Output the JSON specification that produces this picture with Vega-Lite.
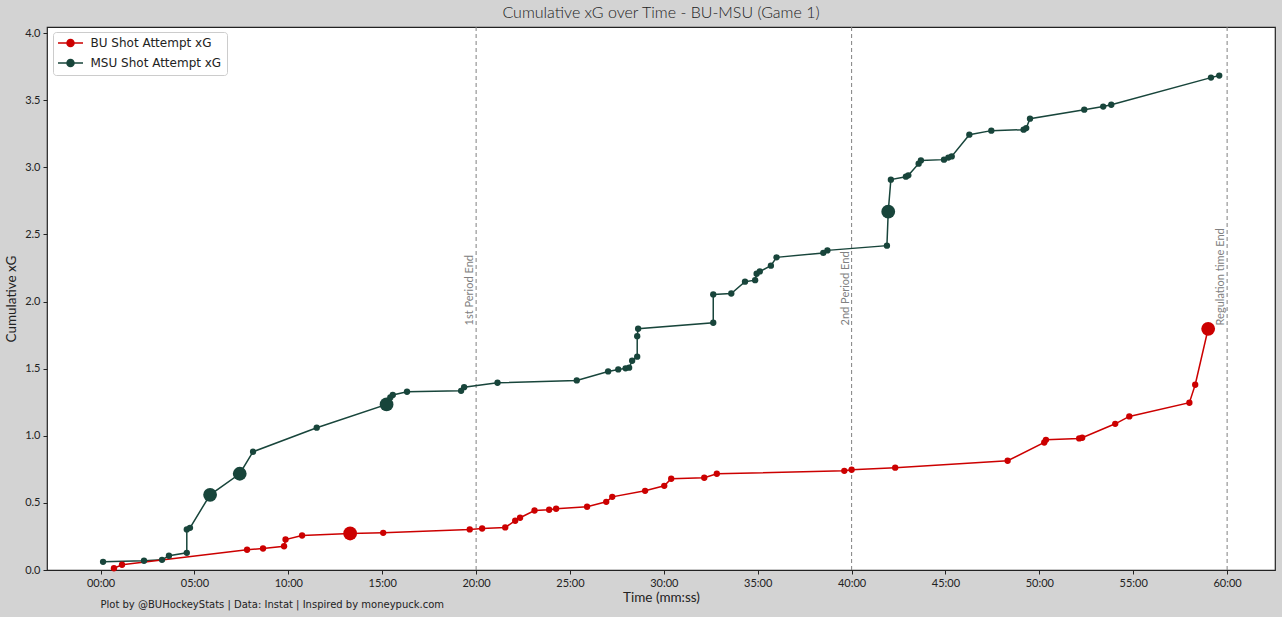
{
  "$schema": "https://vega.github.io/schema/vega-lite/v6.json",
  "width": 1228,
  "height": 543,
  "autosize": {"type": "none"},
  "padding": {"left": 47, "top": 27, "right": 7, "bottom": 47},
  "background": "#d3d3d3",
  "title": {"text": "Cumulative xG over Time - BU-MSU (Game 1)", "font": "Lato", "fontSize": 16, "fontWeight": 300, "color": "#222222", "offset": 6},
  "config": {
    "view": {"fill": "white", "stroke": "#222222", "strokeWidth": 1.2},
    "axis": {"grid": false, "domain": false, "tickColor": "#222222", "tickSize": 4, "labelFont": "Lato", "labelFontSize": 11, "labelColor": "#222222", "labelPadding": 3, "titleFont": "Lato", "titleFontSize": 13.5, "titleFontWeight": "normal", "titleColor": "#222222"}
  },
  "datasets": {
    "shots": [
      {"team": "MSU", "t": 0.13, "xg": 0.061, "goal": "No"},
      {"team": "MSU", "t": 2.31, "xg": 0.069, "goal": "No"},
      {"team": "MSU", "t": 3.27, "xg": 0.076, "goal": "No"},
      {"team": "MSU", "t": 3.64, "xg": 0.106, "goal": "No"},
      {"team": "MSU", "t": 4.59, "xg": 0.128, "goal": "No"},
      {"team": "MSU", "t": 4.59, "xg": 0.302, "goal": "No"},
      {"team": "MSU", "t": 4.76, "xg": 0.314, "goal": "No"},
      {"team": "MSU", "t": 5.83, "xg": 0.560, "goal": "Yes"},
      {"team": "MSU", "t": 7.41, "xg": 0.717, "goal": "Yes"},
      {"team": "MSU", "t": 8.12, "xg": 0.881, "goal": "No"},
      {"team": "MSU", "t": 11.51, "xg": 1.060, "goal": "No"},
      {"team": "MSU", "t": 15.23, "xg": 1.233, "goal": "Yes"},
      {"team": "MSU", "t": 15.43, "xg": 1.285, "goal": "No"},
      {"team": "MSU", "t": 15.56, "xg": 1.304, "goal": "No"},
      {"team": "MSU", "t": 16.32, "xg": 1.328, "goal": "No"},
      {"team": "MSU", "t": 19.20, "xg": 1.335, "goal": "No"},
      {"team": "MSU", "t": 19.36, "xg": 1.362, "goal": "No"},
      {"team": "MSU", "t": 21.14, "xg": 1.395, "goal": "No"},
      {"team": "MSU", "t": 25.36, "xg": 1.412, "goal": "No"},
      {"team": "MSU", "t": 27.03, "xg": 1.479, "goal": "No"},
      {"team": "MSU", "t": 27.57, "xg": 1.494, "goal": "No"},
      {"team": "MSU", "t": 27.96, "xg": 1.502, "goal": "No"},
      {"team": "MSU", "t": 28.15, "xg": 1.507, "goal": "No"},
      {"team": "MSU", "t": 28.31, "xg": 1.559, "goal": "No"},
      {"team": "MSU", "t": 28.58, "xg": 1.589, "goal": "No"},
      {"team": "MSU", "t": 28.58, "xg": 1.742, "goal": "No"},
      {"team": "MSU", "t": 28.63, "xg": 1.797, "goal": "No"},
      {"team": "MSU", "t": 32.63, "xg": 1.842, "goal": "No"},
      {"team": "MSU", "t": 32.63, "xg": 2.053, "goal": "No"},
      {"team": "MSU", "t": 33.59, "xg": 2.060, "goal": "No"},
      {"team": "MSU", "t": 34.32, "xg": 2.148, "goal": "No"},
      {"team": "MSU", "t": 34.86, "xg": 2.159, "goal": "No"},
      {"team": "MSU", "t": 34.94, "xg": 2.207, "goal": "No"},
      {"team": "MSU", "t": 35.11, "xg": 2.224, "goal": "No"},
      {"team": "MSU", "t": 35.70, "xg": 2.267, "goal": "No"},
      {"team": "MSU", "t": 36.00, "xg": 2.329, "goal": "No"},
      {"team": "MSU", "t": 38.49, "xg": 2.362, "goal": "No"},
      {"team": "MSU", "t": 38.71, "xg": 2.381, "goal": "No"},
      {"team": "MSU", "t": 41.88, "xg": 2.416, "goal": "No"},
      {"team": "MSU", "t": 41.95, "xg": 2.669, "goal": "Yes"},
      {"team": "MSU", "t": 42.09, "xg": 2.908, "goal": "No"},
      {"team": "MSU", "t": 42.89, "xg": 2.930, "goal": "No"},
      {"team": "MSU", "t": 43.02, "xg": 2.940, "goal": "No"},
      {"team": "MSU", "t": 43.57, "xg": 3.027, "goal": "No"},
      {"team": "MSU", "t": 43.69, "xg": 3.051, "goal": "No"},
      {"team": "MSU", "t": 44.92, "xg": 3.057, "goal": "No"},
      {"team": "MSU", "t": 45.15, "xg": 3.072, "goal": "No"},
      {"team": "MSU", "t": 45.33, "xg": 3.081, "goal": "No"},
      {"team": "MSU", "t": 46.27, "xg": 3.243, "goal": "No"},
      {"team": "MSU", "t": 47.44, "xg": 3.273, "goal": "No"},
      {"team": "MSU", "t": 49.16, "xg": 3.280, "goal": "No"},
      {"team": "MSU", "t": 49.30, "xg": 3.292, "goal": "No"},
      {"team": "MSU", "t": 49.50, "xg": 3.362, "goal": "No"},
      {"team": "MSU", "t": 52.39, "xg": 3.429, "goal": "No"},
      {"team": "MSU", "t": 53.40, "xg": 3.452, "goal": "No"},
      {"team": "MSU", "t": 53.83, "xg": 3.466, "goal": "No"},
      {"team": "MSU", "t": 59.14, "xg": 3.668, "goal": "No"},
      {"team": "MSU", "t": 59.58, "xg": 3.683, "goal": "No"},
      {"team": "BU", "t": 0.71, "xg": 0.013, "goal": "No"},
      {"team": "BU", "t": 1.14, "xg": 0.039, "goal": "No"},
      {"team": "BU", "t": 7.80, "xg": 0.151, "goal": "No"},
      {"team": "BU", "t": 8.65, "xg": 0.160, "goal": "No"},
      {"team": "BU", "t": 9.77, "xg": 0.177, "goal": "No"},
      {"team": "BU", "t": 9.85, "xg": 0.227, "goal": "No"},
      {"team": "BU", "t": 10.73, "xg": 0.257, "goal": "No"},
      {"team": "BU", "t": 13.29, "xg": 0.272, "goal": "Yes"},
      {"team": "BU", "t": 15.05, "xg": 0.277, "goal": "No"},
      {"team": "BU", "t": 19.66, "xg": 0.302, "goal": "No"},
      {"team": "BU", "t": 20.32, "xg": 0.309, "goal": "No"},
      {"team": "BU", "t": 21.55, "xg": 0.317, "goal": "No"},
      {"team": "BU", "t": 22.08, "xg": 0.367, "goal": "No"},
      {"team": "BU", "t": 22.34, "xg": 0.389, "goal": "No"},
      {"team": "BU", "t": 23.11, "xg": 0.443, "goal": "No"},
      {"team": "BU", "t": 23.89, "xg": 0.449, "goal": "No"},
      {"team": "BU", "t": 24.26, "xg": 0.456, "goal": "No"},
      {"team": "BU", "t": 25.91, "xg": 0.471, "goal": "No"},
      {"team": "BU", "t": 26.93, "xg": 0.508, "goal": "No"},
      {"team": "BU", "t": 27.25, "xg": 0.545, "goal": "No"},
      {"team": "BU", "t": 29.00, "xg": 0.590, "goal": "No"},
      {"team": "BU", "t": 30.02, "xg": 0.627, "goal": "No"},
      {"team": "BU", "t": 30.39, "xg": 0.680, "goal": "No"},
      {"team": "BU", "t": 32.15, "xg": 0.687, "goal": "No"},
      {"team": "BU", "t": 32.82, "xg": 0.717, "goal": "No"},
      {"team": "BU", "t": 39.61, "xg": 0.739, "goal": "No"},
      {"team": "BU", "t": 40.00, "xg": 0.747, "goal": "No"},
      {"team": "BU", "t": 42.32, "xg": 0.762, "goal": "No"},
      {"team": "BU", "t": 48.31, "xg": 0.814, "goal": "No"},
      {"team": "BU", "t": 50.26, "xg": 0.950, "goal": "No"},
      {"team": "BU", "t": 50.35, "xg": 0.970, "goal": "No"},
      {"team": "BU", "t": 52.12, "xg": 0.980, "goal": "No"},
      {"team": "BU", "t": 52.28, "xg": 0.985, "goal": "No"},
      {"team": "BU", "t": 54.04, "xg": 1.089, "goal": "No"},
      {"team": "BU", "t": 54.79, "xg": 1.144, "goal": "No"},
      {"team": "BU", "t": 57.99, "xg": 1.246, "goal": "No"},
      {"team": "BU", "t": 58.30, "xg": 1.380, "goal": "No"},
      {"team": "BU", "t": 58.99, "xg": 1.797, "goal": "Yes"}
    ],
    "periods": [
      {"t": 20, "label": "1st Period End"},
      {"t": 40, "label": "2nd Period End"},
      {"t": 60, "label": "Regulation time End"}
    ]
  },
  "resolve": {"axis": {"x": "independent"}},
  "layer": [
    {
      "data": {"name": "periods"},
      "mark": {"type": "rule", "color": "#808080", "strokeWidth": 1, "strokeDash": [4, 3]},
      "encoding": {
        "x": {"field": "t", "type": "quantitative", "scale": {"domain": [-2.856, 62.55], "nice": false, "zero": false},
          "axis": {"orient": "bottom", "title": "Plot by @BUHockeyStats | Data: Instat | Inspired by moneypuck.com", "labels": false, "ticks": false, "domain": false, "titleAnchor": "start", "titleAlign": "left", "titleX": 53, "titleY": 34, "titleBaseline": "middle", "titleFont": "DejaVu Sans", "titleFontSize": 10}}
      }
    },
    {
      "data": {"name": "periods"},
      "mark": {"type": "text", "angle": 270, "align": "left", "baseline": "bottom", "color": "#808080", "font": "Lato", "fontSize": 11, "dx": 0, "dy": -1},
      "encoding": {
        "x": {"field": "t", "type": "quantitative", "axis": null},
        "y": {"datum": 1.822},
        "text": {"field": "label"}
      }
    },
    {
      "data": {"name": "shots"},
      "mark": {"type": "line", "strokeWidth": 1.5},
      "encoding": {
        "x": {"field": "t", "type": "quantitative",
          "axis": {"orient": "bottom", "title": "Time (mm:ss)", "values": [0, 5, 10, 15, 20, 25, 30, 35, 40, 45, 50, 55, 60], "labelExpr": "(datum.value < 10 ? '0' : '') + datum.value + ':00'", "titlePadding": 2}},
        "y": {"field": "xg", "type": "quantitative", "scale": {"domain": [0, 4.045], "nice": false},
          "axis": {"title": "Cumulative xG", "values": [0, 0.5, 1, 1.5, 2, 2.5, 3, 3.5, 4], "format": ".1f", "titlePadding": 6}},
        "color": {"field": "team", "type": "nominal", "scale": {"domain": ["BU", "MSU"], "range": ["#cc0000", "#18453b"]},
          "legend": {"orient": "none", "legendX": 6, "legendY": 5, "title": null, "fillColor": "white", "strokeColor": "#cccccc", "cornerRadius": 3, "padding": 5,
            "symbolType": "M-2.5,0H2.5M-0.7,0A0.7,0.7,0,1,0,0.7,0A0.7,0.7,0,1,0,-0.7,0", "symbolSize": 100, "symbolOffset": 6.5, "symbolStrokeWidth": 1.5,
            "labelOffset": 14, "labelFont": "DejaVu Sans", "labelFontSize": 12, "labelColor": "#222222", "rowPadding": 6,
            "labelExpr": "datum.label + ' Shot Attempt xG'",
            "encode": {"symbols": {"update": {"stroke": {"scale": "color", "field": "value"}, "fill": {"scale": "color", "field": "value"}}}}}},
        "order": {"field": "xg", "type": "quantitative"}
      }
    },
    {
      "data": {"name": "shots"},
      "mark": {"type": "circle", "opacity": 1},
      "encoding": {
        "x": {"field": "t", "type": "quantitative", "axis": null},
        "y": {"field": "xg", "type": "quantitative"},
        "color": {"field": "team", "type": "nominal", "legend": null},
        "size": {"field": "goal", "type": "nominal", "scale": {"domain": ["No", "Yes"], "range": [40, 190]}, "legend": null}
      }
    }
  ]
}
